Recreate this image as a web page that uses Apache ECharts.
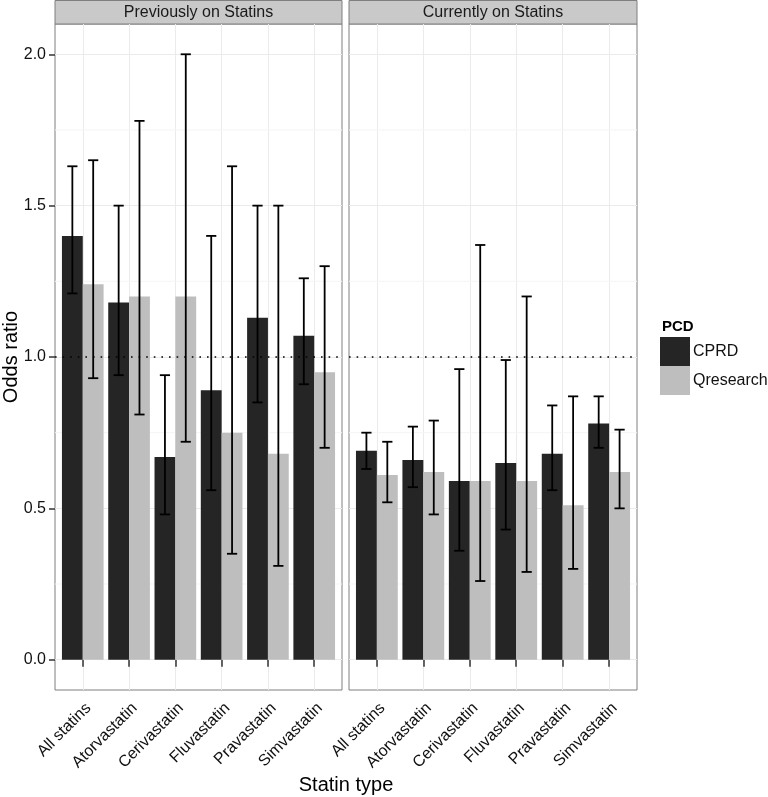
<!DOCTYPE html>
<html><head><meta charset="utf-8">
<script src="https://cdn.jsdelivr.net/npm/echarts@6/dist/echarts.min.js"></script>
<style>html,body{margin:0;padding:0;background:#fff}#c{width:768px;height:797px}</style>
</head><body><div id="c"></div>
<script>
const categories = ['All statins','Atorvastatin','Cerivastatin','Fluvastatin','Pravastatin','Simvastatin'];
const panels = ['Previously on Statins','Currently on Statins'];
const groups = ['CPRD','Qresearch'];
const yTicks = [0, 0.5, 1.0, 1.5, 2.0];
const yMinor = [0.25, 0.75, 1.25, 1.75];
const refLine = 1.0;
// Previously on statins
const prevCPRD   = [1.40, 1.18, 0.67, 0.89, 1.13, 1.07];
const prevCPRDlo = [1.21, 0.94, 0.48, 0.56, 0.85, 0.91];
const prevCPRDhi = [1.63, 1.50, 0.94, 1.40, 1.50, 1.26];
const prevQ      = [1.24, 1.20, 1.20, 0.75, 0.68, 0.95];
const prevQlo    = [0.93, 0.81, 0.72, 0.35, 0.31, 0.70];
const prevQhi    = [1.65, 1.78, 2.00, 1.63, 1.50, 1.30];
// Currently on statins
const curCPRD    = [0.69, 0.66, 0.59, 0.65, 0.68, 0.78];
const curCPRDlo  = [0.63, 0.57, 0.36, 0.43, 0.56, 0.70];
const curCPRDhi  = [0.75, 0.77, 0.96, 0.99, 0.84, 0.87];
const curQ       = [0.61, 0.62, 0.59, 0.59, 0.51, 0.62];
const curQlo     = [0.52, 0.48, 0.26, 0.29, 0.30, 0.50];
const curQhi     = [0.72, 0.79, 1.37, 1.20, 0.87, 0.76];

const colors = {CPRD:'#252525', Qresearch:'#bebebe'};
const FONT = 'Liberation Sans, Arial, sans-serif';
const dodge = 0.225, barW = 0.45, capW = 0.22;
const xMin = 0.4, xMax = 6.6;

function rows(v, lo, hi){ return v.map((d,i)=>[i+1, d, lo[i], hi[i]]); }

function barSeries(name, gi, data, off){
  return {
    type:'custom', name, xAxisIndex:gi, yAxisIndex:gi, z:3,
    itemStyle:{color:colors[name]},
    data,
    encode:{x:0, y:1},
    renderItem(params, api){
      const x = api.value(0)+off, v = api.value(1);
      const p1 = api.coord([x, v]), p0 = api.coord([x, 0]);
      const w = api.size([barW, 0])[0];
      return {type:'rect', shape:{x:p1[0]-w/2, y:p1[1], width:w, height:p0[1]-p1[1]},
        style:{fill:api.visual('color')}};
    }
  };
}
function errSeries(gi, data, off){
  return {
    type:'custom', xAxisIndex:gi, yAxisIndex:gi, z:5, silent:true,
    data, encode:{x:0, y:[2,3]},
    renderItem(params, api){
      const x = api.value(0)+off;
      const lo = api.coord([x, api.value(2)]), hi = api.coord([x, api.value(3)]);
      const c = api.size([capW, 0])[0]/2;
      const st = {stroke:'#000', lineWidth:1.8};
      return {type:'group', children:[
        {type:'line', shape:{x1:lo[0], y1:lo[1], x2:hi[0], y2:hi[1]}, style:st},
        {type:'line', shape:{x1:lo[0]-c, y1:lo[1], x2:lo[0]+c, y2:lo[1]}, style:st},
        {type:'line', shape:{x1:hi[0]-c, y1:hi[1], x2:hi[0]+c, y2:hi[1]}, style:st}
      ]};
    }
  };
}
function hLineSeries(gi, values, z, style){
  return {
    type:'custom', xAxisIndex:gi, yAxisIndex:gi, z, silent:true,
    data: values.map(v=>[xMin, v]), encode:{y:1},
    renderItem(params, api){
      const a = api.coord([xMin, api.value(1)]), b = api.coord([xMax, api.value(1)]);
      return {type:'line', shape:{x1:a[0], y1:a[1], x2:b[0], y2:b[1]}, style};
    }
  };
}

const gridPos = [{left:55, width:287}, {left:349, width:288}];
const plotTop = 24, plotH = 666;

const option = {
  animation:false,
  textStyle:{fontFamily:FONT},
  grid: gridPos.map(g=>({left:g.left, width:g.width, top:plotTop, height:plotH, show:true,
    borderColor:'#7f7f7f', borderWidth:1, backgroundColor:'#fff', containLabel:false})),
  xAxis: gridPos.map((g,gi)=>({
    type:'value', gridIndex:gi, min:xMin, max:xMax,
    axisLine:{show:false},
    axisTick:{show:true, length:7, lineStyle:{color:'#333', width:1.5}, customValues:[1,2,3,4,5,6]},
    axisLabel:{customValues:[1,2,3,4,5,6], rotate:45, margin:10, align:'right', verticalAlign:'top',
      color:'#111', fontSize:16, fontFamily:FONT,
      formatter:v=>categories[Math.round(v)-1]},
    splitLine:{show:true, lineStyle:{color:'#ebebeb', width:1}}
  })),
  yAxis: gridPos.map((g,gi)=>({
    type:'value', gridIndex:gi, min:-0.1, max:2.1,
    axisLine:{show:false},
    axisTick:{show:gi===0, length:6, lineStyle:{color:'#333', width:1.5}, customValues:yTicks},
    axisLabel:{show:gi===0, customValues:yTicks, margin:9, color:'#111', fontSize:16, fontFamily:FONT,
      formatter:v=>v.toFixed(1)},
    splitLine:{show:true, lineStyle:{color:'#ebebeb', width:1}}
  })),
  legend:{
    orient:'vertical', left:660, top:337, itemWidth:30, itemHeight:29, itemGap:0, padding:0,
    icon:'rect', data:groups, textStyle:{fontSize:16, color:'#111', fontFamily:FONT, padding:[0,0,0,-2]},
    selectedMode:false
  },
  title:{text:'PCD', left:662, top:319, padding:0, textStyle:{fontSize:15, fontWeight:'bold', color:'#000', fontFamily:FONT}},
  graphic:[
    ...gridPos.map((g,i)=>({type:'group', children:[
      {type:'rect', shape:{x:g.left, y:0.5, width:g.width, height:plotTop-0.5},
        style:{fill:'#c9c9c9', stroke:'#7f7f7f', lineWidth:1}},
      {type:'text', style:{text:panels[i], x:g.left+g.width/2, y:plotTop/2+1, align:'center', verticalAlign:'middle',
        font:'16px '+FONT, fill:'#1a1a1a'}}
    ]})),
    {type:'text', style:{text:'Statin type', x:346, y:785, align:'center', verticalAlign:'middle', font:'20px '+FONT, fill:'#000'}},
    {type:'text', rotation:Math.PI/2, x:11, y:357, style:{text:'Odds ratio', x:0, y:0, align:'center', verticalAlign:'middle', font:'20px '+FONT, fill:'#000'}}
  ],
  series:[
    hLineSeries(0, yMinor, 1, {stroke:'#f5f5f5', lineWidth:1}),
    hLineSeries(1, yMinor, 1, {stroke:'#f5f5f5', lineWidth:1}),
    barSeries('CPRD', 0, rows(prevCPRD, prevCPRDlo, prevCPRDhi), -dodge),
    barSeries('Qresearch', 0, rows(prevQ, prevQlo, prevQhi), dodge),
    barSeries('CPRD', 1, rows(curCPRD, curCPRDlo, curCPRDhi), -dodge),
    barSeries('Qresearch', 1, rows(curQ, curQlo, curQhi), dodge),
    errSeries(0, rows(prevCPRD, prevCPRDlo, prevCPRDhi), -dodge),
    errSeries(0, rows(prevQ, prevQlo, prevQhi), dodge),
    errSeries(1, rows(curCPRD, curCPRDlo, curCPRDhi), -dodge),
    errSeries(1, rows(curQ, curQlo, curQhi), dodge),
    hLineSeries(0, [refLine], 6, {stroke:'#000', lineWidth:1.6, lineDash:[1.6,6]}),
    hLineSeries(1, [refLine], 6, {stroke:'#000', lineWidth:1.6, lineDash:[1.6,6]})
  ]
};
echarts.init(document.getElementById('c')).setOption(option);
</script></body></html>
